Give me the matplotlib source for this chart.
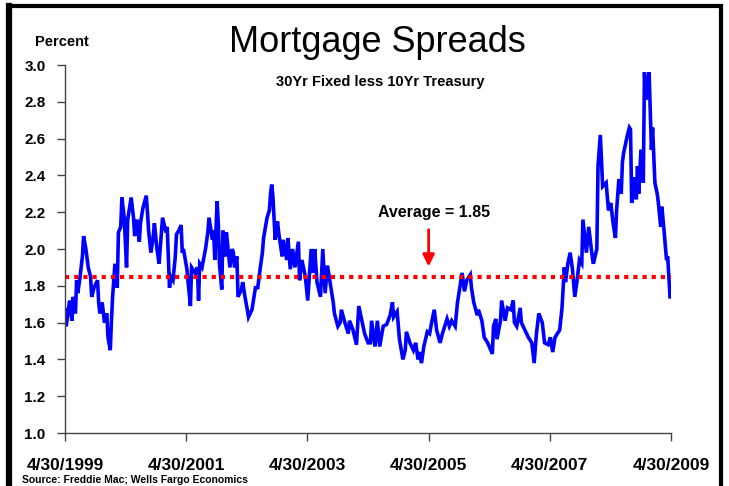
import matplotlib
matplotlib.use("Agg")
import matplotlib.pyplot as plt
import numpy as np
import pandas as pd

# weeks since 4/30/1999 and the spread (percent)
weeks = [0, 1, 4, 6, 7, 9, 10, 11, 13, 15, 16, 18, 20, 22, 23, 25, 28, 29, 30, 32,
         34, 36, 37, 39, 40, 41, 43, 45, 46, 48, 49, 51, 53, 54, 57, 59, 60, 62, 64, 65,
         67, 70, 71, 72, 74, 76, 77, 79, 81, 83, 84, 87, 88, 90, 91, 93, 95, 96, 98, 100,
         101, 102, 105, 106, 108, 109, 112, 114, 115, 116, 118, 121, 123, 124, 127, 128, 129, 131, 132, 133,
         135, 136, 138, 139, 142, 144, 145, 146, 148, 149, 152, 153, 155, 157, 158, 161, 162, 164, 166, 168,
         170, 171, 174, 176, 177, 178, 179, 181, 183, 184, 187, 188, 191, 192, 194, 196, 198, 201, 202, 204,
         207, 209, 212, 214, 215, 217, 220, 222, 224, 226, 228, 231, 232, 235, 237, 238, 241, 244, 245, 248,
         251, 253, 256, 258, 261, 263, 264, 267, 269, 271, 274, 277, 280, 282, 283, 286, 288, 291, 293, 294,
         297, 300, 302, 304, 305, 307, 309, 312, 314, 316, 318, 320, 323, 325, 329, 331, 333, 336, 338, 340,
         342, 344, 346, 349, 350, 352, 355, 356, 359, 361, 364, 368, 369, 371, 372, 375, 376, 379, 381, 384,
         386, 387, 389, 392, 393, 396, 399, 402, 404, 406, 408, 411, 413, 416, 418, 420, 422, 424, 426, 428,
         430, 431, 433, 435, 437, 439, 441, 443, 445, 446, 449, 451, 454, 455, 458, 459, 461, 463, 466, 468,
         470, 472, 474, 475, 477, 479, 480, 481, 484, 486, 487, 488, 490, 492, 493, 494, 496, 498, 499, 500,
         502, 503, 505, 506, 508, 510, 511, 513, 514, 516, 518, 519, 521]
spread = [1.67, 1.58, 1.72, 1.61, 1.74, 1.65, 1.83, 1.76, 1.85, 1.96, 2.07, 2.00, 1.90, 1.85, 1.74, 1.79, 1.83, 1.71, 1.65, 1.71,
          1.60, 1.65, 1.52, 1.45, 1.61, 1.74, 1.92, 1.79, 2.09, 2.12, 2.28, 2.17, 1.90, 2.16, 2.28, 2.17, 2.07, 2.16, 2.04, 2.14,
          2.22, 2.29, 2.20, 2.10, 1.98, 2.07, 2.14, 2.01, 1.92, 2.09, 2.17, 2.09, 2.12, 1.79, 1.85, 1.83, 1.96, 2.08, 2.10, 2.13,
          1.98, 2.00, 1.89, 1.82, 1.69, 1.90, 1.87, 1.90, 1.72, 1.92, 1.90, 2.00, 2.09, 2.17, 2.05, 2.10, 1.94, 2.26, 2.14, 1.92,
          1.78, 2.10, 1.96, 2.09, 1.90, 2.00, 1.98, 1.90, 1.96, 1.74, 1.78, 1.82, 1.74, 1.67, 1.63, 1.67, 1.71, 1.79, 1.79, 1.89,
          1.98, 2.06, 2.17, 2.21, 2.30, 2.35, 2.29, 2.05, 2.15, 2.09, 1.96, 2.05, 1.94, 2.06, 1.89, 2.00, 1.90, 2.04, 1.83, 1.94,
          1.85, 1.72, 2.00, 1.87, 2.00, 1.82, 1.74, 2.00, 1.76, 1.91, 1.83, 1.71, 1.65, 1.58, 1.60, 1.67, 1.60, 1.54, 1.61, 1.56,
          1.48, 1.69, 1.60, 1.54, 1.49, 1.49, 1.61, 1.47, 1.61, 1.47, 1.58, 1.59, 1.64, 1.71, 1.63, 1.66, 1.51, 1.40, 1.45, 1.55,
          1.49, 1.45, 1.49, 1.40, 1.44, 1.38, 1.47, 1.55, 1.54, 1.61, 1.67, 1.56, 1.49, 1.54, 1.62, 1.58, 1.61, 1.58, 1.71, 1.79,
          1.87, 1.77, 1.83, 1.86, 1.79, 1.71, 1.64, 1.67, 1.61, 1.52, 1.49, 1.43, 1.58, 1.62, 1.51, 1.61, 1.72, 1.61, 1.68, 1.67,
          1.72, 1.60, 1.58, 1.68, 1.60, 1.56, 1.52, 1.49, 1.38, 1.54, 1.65, 1.60, 1.49, 1.48, 1.52, 1.44, 1.52, 1.54, 1.56, 1.68,
          1.90, 1.82, 1.92, 1.98, 1.89, 1.74, 1.83, 1.94, 1.92, 2.16, 1.98, 2.12, 1.96, 1.92, 2.00, 2.45, 2.62, 2.34, 2.36, 2.21,
          2.25, 2.14, 2.06, 2.21, 2.38, 2.30, 2.47, 2.52, 2.61, 2.66, 2.65, 2.25, 2.39, 2.27, 2.45, 2.30, 2.54, 2.36, 2.96, 2.81,
          2.92, 2.96, 2.54, 2.66, 2.36, 2.30, 2.25, 2.12, 2.23, 2.09, 1.94, 1.96, 1.74]
average = 1.85

tick_dates = ["1999-04-30", "2001-04-30", "2003-04-30", "2005-04-30", "2007-04-30", "2009-04-30"]
tick_labels = ["4/30/1999", "4/30/2001", "4/30/2003", "4/30/2005", "4/30/2007", "4/30/2009"]

start = pd.Timestamp("1999-04-30")
dates = start + pd.to_timedelta(np.array(weeks) * 7, unit="D")

plt.rcParams["font.family"] = ["Liberation Sans", "DejaVu Sans"]

fig = plt.figure(figsize=(7.29, 4.86), dpi=100)
ax = fig.add_axes([65 / 729, 1 - 433 / 486, 606 / 729, 368 / 486])

ax.plot(dates, spread, color="#0000ff", linewidth=2.6, solid_joinstyle="miter")
ax.axhline(average, color="#ff0000", linewidth=3, linestyle=(0, (1, 1.2)))

ax.set_ylim(1.0, 3.0)
ax.set_xlim(pd.Timestamp(tick_dates[0]), pd.Timestamp(tick_dates[-1]))
ax.set_yticks(np.arange(1.0, 3.01, 0.2))
ax.set_yticklabels([f"{v:.1f}" for v in np.arange(1.0, 3.01, 0.2)], fontsize=11, fontweight="bold")
ax.set_xticks([pd.Timestamp(d) for d in tick_dates])
ax.set_xticklabels(tick_labels, fontsize=12.5, fontweight="bold")
ax.tick_params(axis="both", direction="out", length=6, width=1, color="#444444")
ax.tick_params(axis="x", pad=12)
ax.tick_params(axis="y", pad=8)

for s in ["top", "right"]:
    ax.spines[s].set_visible(False)
for s in ["left", "bottom"]:
    ax.spines[s].set_color("#444444")
    ax.spines[s].set_linewidth(1)

# average annotation with arrow
ax.annotate("", xy=(pd.Timestamp("2005-04-30"), 1.89), xytext=(pd.Timestamp("2005-04-30"), 2.12),
            arrowprops=dict(arrowstyle="-|>,head_width=0.35,head_length=0.7", color="#ff0000", lw=2))
ax.text(pd.Timestamp("2005-05-30"), 2.2, "Average = 1.85", ha="center", va="center",
        fontsize=11.5, fontweight="bold")

fig.text(377 / 729, 1 - 42 / 486, "Mortgage Spreads", ha="center", va="center", fontsize=26)
fig.text(380 / 729, 1 - 82 / 486, "30Yr Fixed less 10Yr Treasury", ha="center", va="center",
         fontsize=10.5, fontweight="bold")
fig.text(35 / 729, 1 - 42 / 486, "Percent", ha="left", va="center",
         fontsize=10.5, fontweight="bold")
fig.text(22 / 729, 1 - 480 / 486, "Source: Freddie Mac; Wells Fargo Economics", ha="left", va="center",
         fontsize=7.5, fontweight="bold")

# black frame around the chart
frame = plt.Rectangle((9 / 729, -0.05), 712 / 729, 1.05 - 6 / 486, transform=fig.transFigure,
                      fill=False, edgecolor="black", linewidth=3)
fig.patches.append(frame)
fig.add_artist(plt.Line2D([9 / 729, 9 / 729], [0, 1 - 6 / 486], transform=fig.transFigure,
                          color="black", linewidth=4.5))

fig.savefig("out.png", dpi=100)
